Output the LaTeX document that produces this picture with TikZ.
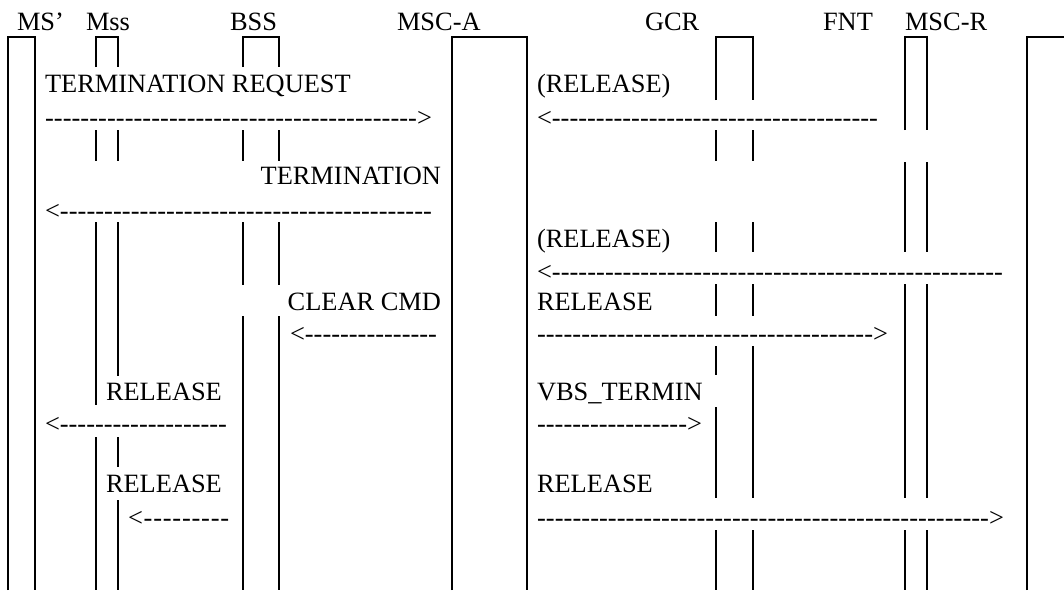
\documentclass[tikz,border=0pt]{standalone}
\usepackage{fontspec}
\setmainfont{Liberation Serif}
\newcommand\larr[1]{\hbox to #1pt{<\xleaders\hbox{-}\hfill}}
\newcommand\rarr[1]{\hbox to #1pt{\xleaders\hbox{-}\hfill>}}
\begin{document}
\begin{tikzpicture}[x=1pt,y=-1pt,
  txt/.style={font=\fontsize{26.4}{30}\selectfont, inner sep=0pt, outer sep=0pt},
  lbl/.style={txt, anchor=base west},
  arr/.style={txt, anchor=mid west, yshift=-7pt},
  life/.style={line width=2pt, line join=miter}]
\useasboundingbox (0,0) rectangle (1064,590);
% headers
\node[lbl] (hMS) at (17,30) {MS’};
\node[lbl] (hMss) at (86,30) {Mss};
\node[lbl] (hBSS) at (230,30) {BSS};
\node[lbl] (hMSCA) at (397,30) {MSC-A};
\node[lbl] (hGCR) at (645,30) {GCR};
\node[lbl] (hFNT) at (823,30) {FNT};
\node[lbl] (hMSCR) at (905,30) {MSC-R};
% boxes
\draw[life] (8,590) -- (8,37) -- (35,37) -- (35,590);
\draw[life] (452,590) -- (452,37) -- (527,37) -- (527,590);
\draw[life] (1027,590) -- (1027,37) -- (1066,37);
% Mss
\draw[life] (96,67) -- (96,37) -- (118,37) -- (118,67);
\draw[life] (96,130) -- (96,161) (118,130) -- (118,161);
\draw[life] (96,222) -- (96,405) (96,437) -- (96,590);
\draw[life] (118,222) -- (118,376) (118,437) -- (118,467) (118,500) -- (118,590);
% BSS
\draw[life] (243,67) -- (243,37) -- (279,37) -- (279,67);
\draw[life] (243,130) -- (243,161) (279,130) -- (279,161);
\draw[life] (243,222) -- (243,285) (279,222) -- (279,285);
\draw[life] (243,316) -- (243,590) (279,316) -- (279,590);
% GCR
\draw[life] (716,100) -- (716,37) -- (753,37) -- (753,100);
\draw[life] (716,130) -- (716,161) (753,130) -- (753,161);
\draw[life] (716,222) -- (716,252) (753,222) -- (753,252);
\draw[life] (716,284) -- (716,316) (753,284) -- (753,316);
\draw[life] (716,346) -- (716,375) (716,407) -- (716,498) (753,346) -- (753,498);
\draw[life] (716,530) -- (716,590) (753,530) -- (753,590);
% MSC-R
\draw[life] (905,130) -- (905,37) -- (927,37) -- (927,130);
\draw[life] (905,162) -- (905,252) (927,162) -- (927,252);
\draw[life] (905,284) -- (905,498) (927,284) -- (927,498);
\draw[life] (905,530) -- (905,590) (927,530) -- (927,590);
% messages
\node[lbl] (m1) at (45,92) {TERMINATION REQUEST};
\node[arr] (a1) at (45,117) {\rarr{387}};
\node[lbl] (m2) at (537,92) {(RELEASE)};
\node[arr] (a2) at (537,117) {\larr{341}};
\node[lbl, anchor=base east] (m3) at (441,184) {TERMINATION};
\node[arr] (a3) at (45,210) {\larr{387}};
\node[lbl] (m4) at (537,247) {(RELEASE)};
\node[arr] (a4) at (537,271) {\larr{466}};
\node[lbl, anchor=base east] (m5) at (441,310) {CLEAR CMD};
\node[arr] (a5) at (290,333) {\larr{147}};
\node[lbl] (m6) at (537,310) {RELEASE};
\node[arr] (a6) at (537,333) {\rarr{351}};
\node[lbl] (m7) at (106,400) {RELEASE};
\node[arr] (a7) at (45,423) {\larr{182}};
\node[lbl] (m8) at (537,400) {VBS\_TERMIN};
\node[arr] (a8) at (537,423) {\rarr{165}};
\node[lbl] (m9) at (106,492) {RELEASE};
\node[arr] (a9) at (128,517) {\larr{102}};
\node[lbl] (m10) at (537,492) {RELEASE};
\node[arr] (a10) at (537,517) {\rarr{467}};
\end{tikzpicture}
\end{document}
